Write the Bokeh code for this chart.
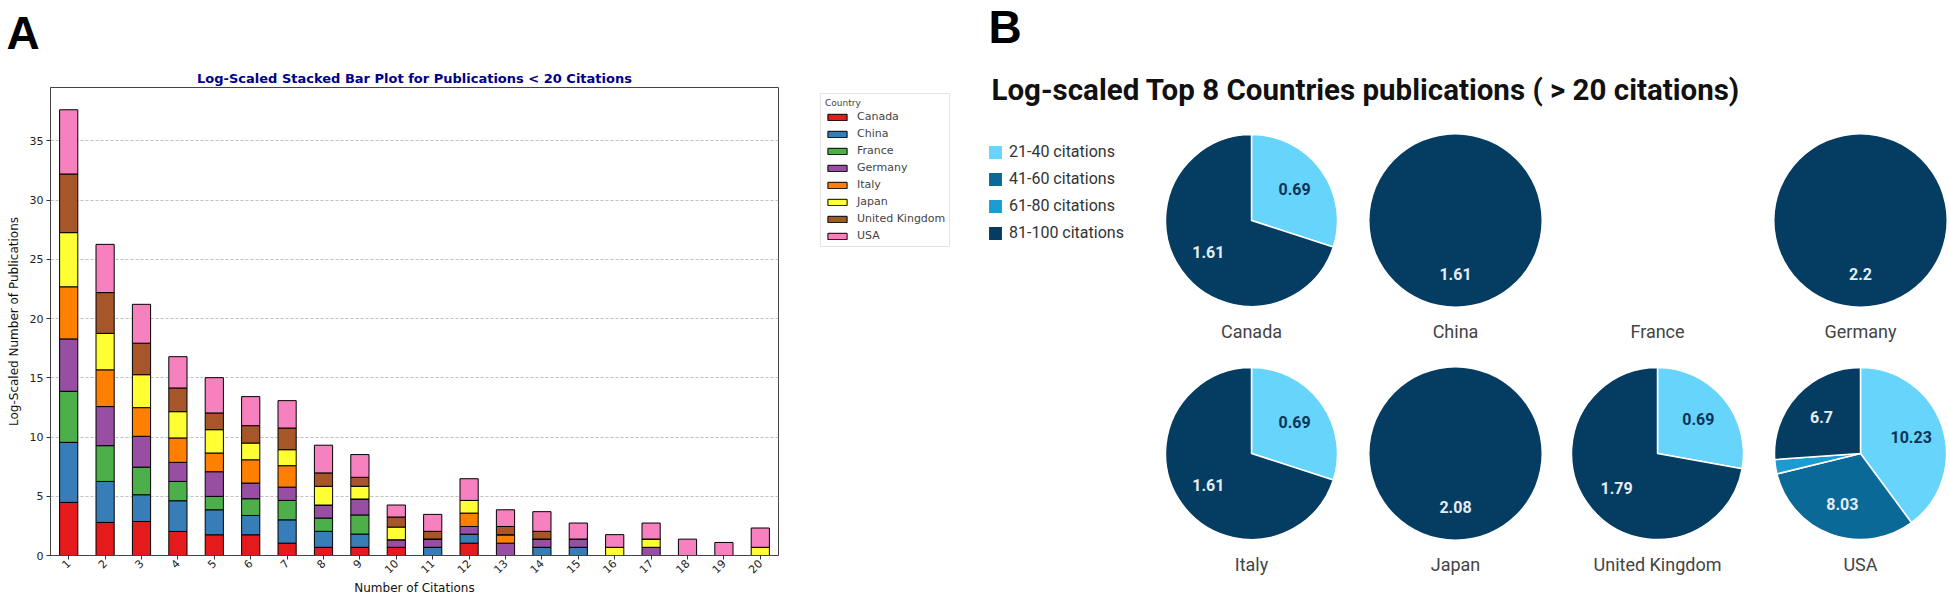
import math
from bokeh.plotting import figure
from bokeh.models import (ColumnDataSource, FactorRange, Range1d, Legend, LegendItem,
                          Label, Title, SingleIntervalTicker)
from bokeh.layouts import row
from bokeh.embed import file_html
from bokeh.resources import INLINE
from bokeh.core.properties import value

# ---------------- Panel A data ----------------
citations = [str(i) for i in range(1, 21)]
countries = ["Canada", "China", "France", "Germany", "Italy", "Japan", "United Kingdom", "USA"]
canada  = [4.48, 2.79, 2.87, 2.03, 1.75, 1.75, 1.04, 0.69, 0.69, 0.69, 0, 1.04, 0, 0, 0, 0, 0, 0, 0, 0]
china   = [5.07, 3.46, 2.26, 2.59, 2.11, 1.63, 1.97, 1.35, 1.12, 0, 0.69, 0.76, 0, 0.69, 0.69, 0, 0, 0, 0, 0]
france  = [4.31, 3.02, 2.33, 1.63, 1.13, 1.41, 1.64, 1.12, 1.61, 0, 0, 0, 0, 0, 0, 0, 0, 0, 0, 0]
germany = [4.42, 3.30, 2.60, 1.61, 2.08, 1.32, 1.12, 1.10, 1.35, 0.64, 0.70, 0.65, 1.04, 0.70, 0.70, 0, 0.69, 0, 0, 0]
italy   = [4.40, 3.10, 2.42, 2.06, 1.58, 1.97, 1.81, 0, 0, 0, 0, 1.13, 0.71, 0, 0, 0, 0, 0, 0, 0]
japan   = [4.57, 3.08, 2.78, 2.22, 1.97, 1.41, 1.35, 1.58, 1.07, 1.07, 0, 1.07, 0, 0, 0, 0.69, 0.70, 0, 0, 0.69]
uk      = [4.95, 3.44, 2.66, 2.00, 1.41, 1.47, 1.83, 1.13, 0.76, 0.85, 0.65, 0, 0.70, 0.65, 0, 0, 0, 0, 0, 0]
usa     = [5.42, 4.07, 3.28, 2.64, 2.98, 2.45, 2.31, 2.34, 1.92, 1.01, 1.43, 1.83, 1.41, 1.66, 1.35, 1.07, 1.35, 1.38, 1.10, 1.63]
bar_colors = ["#e41a1c", "#377eb8", "#4daf4a", "#984ea3", "#ff7f00", "#ffff33", "#a65628", "#f781bf"]

# ---------------- Panel B data ----------------
pie_countries = ["Canada", "China", "France", "Germany", "Italy", "Japan", "United Kingdom", "USA"]
pie_buckets = ["21-40 citations", "41-60 citations", "61-80 citations", "81-100 citations"]
pie_21_40  = [0.69, 0, 0, 0, 0.69, 0, 0.69, 10.23]
pie_41_60  = [0, 0, 0, 0, 0, 0, 0, 8.03]
pie_61_80  = [0, 0, 0, 0, 0, 0, 0, 0.69]
pie_81_100 = [1.61, 1.61, 0, 2.2, 1.61, 2.08, 1.79, 6.7]
pie_colors = ["#66d4fb", "#0b6998", "#1c9bd0", "#053c62"]
pie_label_colors = ["#0b3558", "#e4edf4", "#e4edf4", "#e4edf4"]

FONT_A = "DejaVu Sans"
FONT_B = "Roboto"
H = 598

# ======================= Figure A (bars) =======================
src = ColumnDataSource(dict(citations=citations, Canada=canada, China=china, France=france,
                            Germany=germany, Italy=italy, Japan=japan,
                            **{"United Kingdom": uk}, USA=usa))

pA = figure(x_range=FactorRange(*citations), y_range=Range1d(0, 39.5),
            width=790, height=H,
            output_backend="svg", toolbar_location=None,
            min_border_left=50, min_border_right=12, min_border_top=86, min_border_bottom=42)
pA.frame_align = False
rends = pA.vbar_stack(countries, x="citations", width=0.5, source=src,
                      fill_color=bar_colors, line_color="black", line_width=1)

pA.add_layout(Title(text="Log-Scaled Stacked Bar Plot for Publications < 20 Citations",
                    align="center", text_font=FONT_A, text_font_size="13px",
                    text_font_style="bold", text_color="#00008B", standoff=3), "above")
pA.add_layout(Title(text="A", align="left", vertical_align="top", offset=-44,
                    text_font="Liberation Sans", text_font_size="46px",
                    text_font_style="bold", text_color="black", standoff=13), "above")

pA.outline_line_color = "#444444"
pA.xgrid.grid_line_color = None
pA.ygrid.grid_line_color = "#b0b0b0"
pA.ygrid.grid_line_dash = "3 2"
pA.ygrid.grid_line_alpha = 0.8

pA.yaxis.ticker = SingleIntervalTicker(interval=5)
for ax in (pA.xaxis[0], pA.yaxis[0]):
    ax.major_label_text_font = FONT_A
    ax.major_label_text_font_size = "11px"
    ax.major_label_text_color = "#222222"
    ax.axis_line_color = "#444444"
    ax.major_tick_line_color = "#333333"
    ax.major_tick_out = 4
    ax.major_tick_in = 0
    ax.minor_tick_line_color = None
    ax.axis_label_text_font = FONT_A
    ax.axis_label_text_font_size = "12px"
    ax.axis_label_text_font_style = "normal"
    ax.axis_label_text_color = "#111111"
pA.yaxis.axis_label = "Log-Scaled Number of Publications"
pA.yaxis.major_label_standoff = 3
pA.yaxis.axis_label_standoff = 6
pA.xaxis.axis_label = "Number of Citations"
pA.xaxis.major_label_orientation = math.pi / 4
pA.xaxis.major_label_standoff = 2
pA.xaxis.axis_label_standoff = 1

# ======================= Figure L (legend of A) =======================
WL = 180
pL = figure(x_range=Range1d(0, 1), y_range=Range1d(0, 1), width=WL, height=H,
            frame_width=WL, frame_height=H, output_backend="svg",
            toolbar_location=None, min_border=0)
pL.frame_align = False
pL.axis.visible = False
pL.grid.grid_line_color = None
pL.outline_line_color = None
# legend keys: proxies with their geometry below the visible range
key_rends = [pL.vbar(x=[0.5], bottom=[-3], top=[-2], width=0.1, fill_color=c,
                     line_color="black", line_width=1) for c in bar_colors]
legA = Legend(items=[LegendItem(label=c, renderers=[r]) for c, r in zip(countries, key_rends)],
              title="Country", location=(30, 351))
legA.title_text_font = FONT_A
legA.title_text_font_size = "9px"
legA.title_text_font_style = "normal"
legA.title_standoff = 2
legA.label_text_font = FONT_A
legA.label_text_font_size = "11px"
legA.glyph_width = 24
legA.glyph_height = 8
legA.label_height = 12
legA.label_standoff = 8
legA.spacing = 4
legA.padding = 4
legA.margin = 0
legA.border_line_color = "#cccccc"
legA.background_fill_alpha = 1
pL.add_layout(legA)

# ======================= Figure B (pies) =======================
WB = 979
pB = figure(x_range=Range1d(0, WB), y_range=Range1d(0, H), width=WB, height=H,
            frame_width=WB, frame_height=H,
            output_backend="svg", toolbar_location=None, min_border=0)
pB.frame_align = False
pB.axis.visible = False
pB.grid.grid_line_color = None
pB.outline_line_color = None

col_x = [281, 485, 687, 890]
row_y = [378, 145]
R = 86
centers = [(col_x[i % 4], row_y[i // 4]) for i in range(8)]
pie_values = [pie_21_40, pie_41_60, pie_61_80, pie_81_100]
totals = [sum(v[i] for v in pie_values) for i in range(8)]

wedge_rends = []
lbl = dict(x=[], y=[], text=[], color=[])
cum = [0.0] * 8
for b, vals in enumerate(pie_values):
    d = dict(x=[], y=[], start=[], end=[])
    full = dict(x=[], y=[])
    for i, v in enumerate(vals):
        if v <= 0 or totals[i] <= 0:
            continue
        f0 = cum[i] / totals[i]
        f1 = (cum[i] + v) / totals[i]
        cum[i] += v
        cx, cy = centers[i]
        if f1 - f0 > 0.999:
            full["x"].append(cx); full["y"].append(cy)
        else:
            d["x"].append(cx); d["y"].append(cy)
            d["start"].append(math.pi / 2 - 2 * math.pi * f1)
            d["end"].append(math.pi / 2 - 2 * math.pi * f0)
        if f1 - f0 > 0.05:
            mid = math.pi / 2 - 2 * math.pi * (f0 + f1) / 2
            lbl["x"].append(cx + 0.62 * R * math.cos(mid))
            lbl["y"].append(cy + 0.62 * R * math.sin(mid))
            lbl["text"].append(f"{v:g}")
            lbl["color"].append(pie_label_colors[b])
    r = pB.wedge(x="x", y="y", radius=R, start_angle="start", end_angle="end",
                 fill_color=pie_colors[b], line_color="white", line_width=1.5,
                 source=ColumnDataSource(d))
    if full["x"]:
        pB.circle(x="x", y="y", radius=R, fill_color=pie_colors[b], line_color=None,
                  source=ColumnDataSource(full))
    wedge_rends.append(r)

pB.text(x="x", y="y", text="text", text_color="color", source=ColumnDataSource(lbl),
        text_font=value(FONT_B), text_font_size="16px", text_font_style="bold",
        text_align="center", text_baseline="middle")

pB.text(x=[c[0] for c in centers], y=[c[1] - 111 for c in centers], text=pie_countries,
        text_font=value(FONT_B), text_font_size="18px", text_color="#444444",
        text_align="center", text_baseline="middle")

pB.add_layout(Label(x=21, y=509, text="Log-scaled Top 8 Countries publications ( > 20 citations)",
                    text_font=FONT_B, text_font_size="29.5px", text_font_style="bold",
                    text_color="#111111", text_baseline="alphabetic"))
pB.add_layout(Label(x=18, y=572, text="B", text_font="Liberation Sans", text_font_size="46px",
                    text_font_style="bold", text_color="black", text_baseline="alphabetic"))

legB = Legend(items=[LegendItem(label=b, renderers=[r]) for b, r in zip(pie_buckets, wedge_rends)],
              location=(16, 356))
legB.label_text_font = FONT_B
legB.label_text_font_size = "16px"
legB.label_text_color = "#333333"
legB.glyph_width = 18
legB.glyph_height = 18
legB.label_height = 18
legB.label_standoff = 5
legB.spacing = 8
legB.padding = 0
legB.margin = 0
legB.border_line_color = None
legB.background_fill_alpha = 0
pB.add_layout(legB)

page = row(pA, pL, pB)
open("out.html", "w").write(file_html(page, INLINE))
